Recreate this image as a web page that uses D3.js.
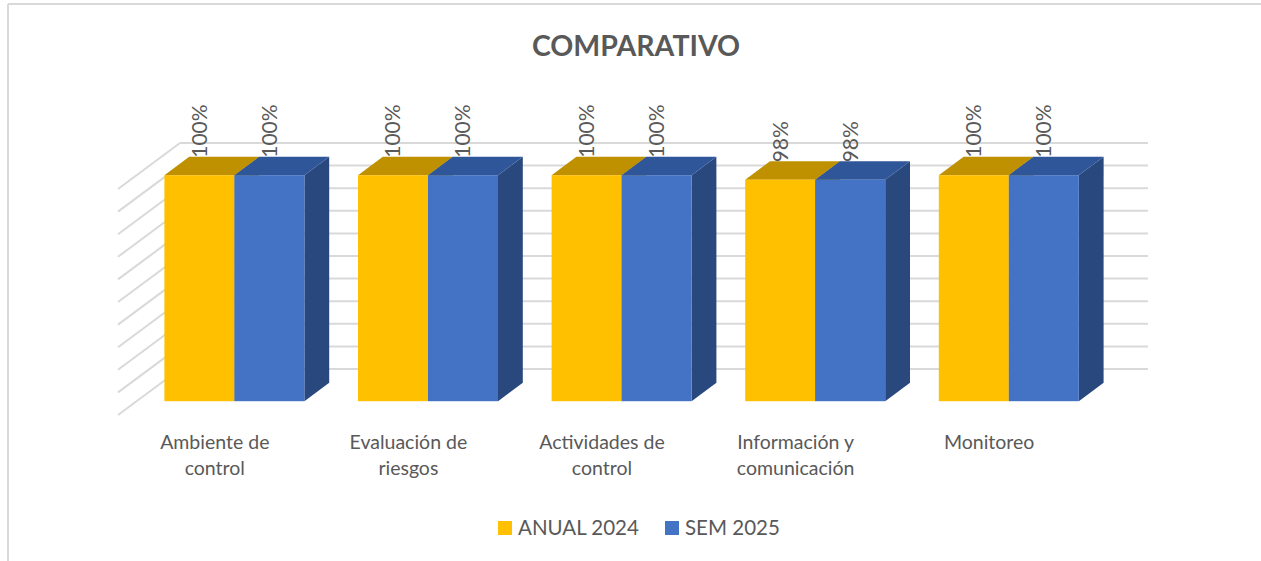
<!DOCTYPE html>
<html>
<head>
<meta charset="utf-8">
<script src="https://cdn.jsdelivr.net/npm/d3@7"></script>
<style>
  html, body { margin: 0; padding: 0; background: #fff; }
  svg { display: block; }
  text { font-family: Lato, "Open Sans", sans-serif; fill: #595959; }
</style>
</head>
<body>
<svg id="chart" width="1261" height="561"></svg>
<script>
// ---- data ----
const title = "COMPARATIVO";
const categories = ["Ambiente de control", "Evaluación de riesgos", "Actividades de control", "Información y comunicación", "Monitoreo"];
const categoryLines = [["Ambiente de", "control"], ["Evaluación de", "riesgos"], ["Actividades de", "control"], ["Información y", "comunicación"], ["Monitoreo"]];
const seriesNames = ["ANUAL 2024", "SEM 2025"];
const anual2024 = [1.00, 1.00, 1.00, 0.98, 1.00];
const sem2025 = [1.00, 1.00, 1.00, 0.98, 1.00];
const gridValues = [0, 0.1, 0.2, 0.3, 0.4, 0.5, 0.6, 0.7, 0.8, 0.9, 1.0];

// ---- styles ----
const colors = {
  front: ["#FFC000", "#4472C4"],
  top: ["#BF9000", "#30569A"],
  side: ["#BF9000", "#29487E"]
};
const svg = d3.select("#chart");

// chart frame
svg.append("line").attr("x1", 8).attr("x2", 1261).attr("y1", 4).attr("y2", 4)
  .attr("stroke", "#d9d9d9").attr("stroke-width", 2);
svg.append("line").attr("x1", 8).attr("x2", 8).attr("y1", 4).attr("y2", 561)
  .attr("stroke", "#d9d9d9").attr("stroke-width", 2);

// 3D projection: depth vector
const D = { x: 62, y: -46 };
const fFront = 0.3, fBack = 0.7;

const x = d3.scaleBand().domain(categories).range([119, 1087]);
const y = d3.scaleLinear().domain([0, 1]).range([415, 189]);
const barW = 70;
const xs = d3.scaleBand().domain(seriesNames).range([0, 2 * barW]);

// back wall gridlines
const g = svg.append("g");
g.selectAll("line.grid").data(gridValues).join("line")
  .attr("x1", 118 + D.x).attr("x2", 1086 + D.x)
  .attr("y1", d => y(d) + D.y).attr("y2", d => y(d) + D.y)
  .attr("stroke", "#d9d9d9").attr("stroke-width", 2);
// side wall diagonals
g.selectAll("line.side").data(gridValues).join("line")
  .attr("x1", 118).attr("x2", 118 + D.x)
  .attr("y1", d => y(d)).attr("y2", d => y(d) + D.y)
  .attr("stroke", "#d9d9d9").attr("stroke-width", 2);

const series = [anual2024, sem2025];
const bars = [];
categories.forEach((c, i) => {
  series.forEach((vals, s) => {
    bars.push({ cat: c, i, s, v: vals[i] });
  });
});

const bg = svg.append("g");
const pt = (a) => a.map(p => p.join(",")).join(" ");
bars.forEach(b => {
  const off = (x.bandwidth() - 2 * barW) / 2;
  const x0 = x(b.cat) + off + xs(seriesNames[b.s]) + fFront * D.x;
  const x1 = x0 + barW;
  const yb = y(0) + fFront * D.y;
  const yt = y(b.v) + fFront * D.y;
  const ddx = (fBack - fFront) * D.x, ddy = (fBack - fFront) * D.y;
  bg.append("polygon").attr("points", pt([[x1, yt], [x1 + ddx, yt + ddy], [x1 + ddx, yb + ddy], [x1, yb]]))
    .attr("fill", colors.side[b.s]);
  bg.append("polygon").attr("points", pt([[x0, yt], [x1, yt], [x1 + ddx, yt + ddy], [x0 + ddx, yt + ddy]]))
    .attr("fill", colors.top[b.s]);
  bg.append("rect").attr("x", x0).attr("y", yt).attr("width", barW).attr("height", yb - yt)
    .attr("fill", colors.front[b.s]);
  b.lx = (x0 + x1) / 2;
  b.ly = yt + ddy + 1;
});

// value labels
svg.append("g").selectAll("text").data(bars).join("text")
  .attr("transform", d => `translate(${d.lx},${d.ly}) rotate(-90)`)
  .attr("dy", "0.35em")
  .attr("font-size", 21)
  .text(d => d3.format(".0%")(d.v));

// category labels (on front floor)
const cg = svg.append("g");
categories.forEach((c, i) => {
  const cx = x(c) + x.bandwidth() / 2 - 1;
  const t = cg.append("text").attr("text-anchor", "middle").attr("font-size", 19.5)
    .attr("x", cx).attr("y", 449);
  categoryLines[i].forEach((ln, k) => {
    t.append("tspan").attr("x", cx).attr("y", 449 + k * 26).text(ln);
  });
});

// title
svg.append("text").attr("x", 636).attr("y", 56).attr("text-anchor", "middle")
  .attr("font-size", 28.5).attr("font-weight", "bold").text(title);

// legend
const legX = [498, 665];
const lg = svg.append("g");
seriesNames.forEach((n, s) => {
  lg.append("rect").attr("x", legX[s]).attr("y", 521).attr("width", 14).attr("height", 14).attr("fill", colors.front[s]);
  lg.append("text").attr("x", legX[s] + 20).attr("y", 535).attr("font-size", 20.5).text(n);
});
</script>
</body>
</html>
